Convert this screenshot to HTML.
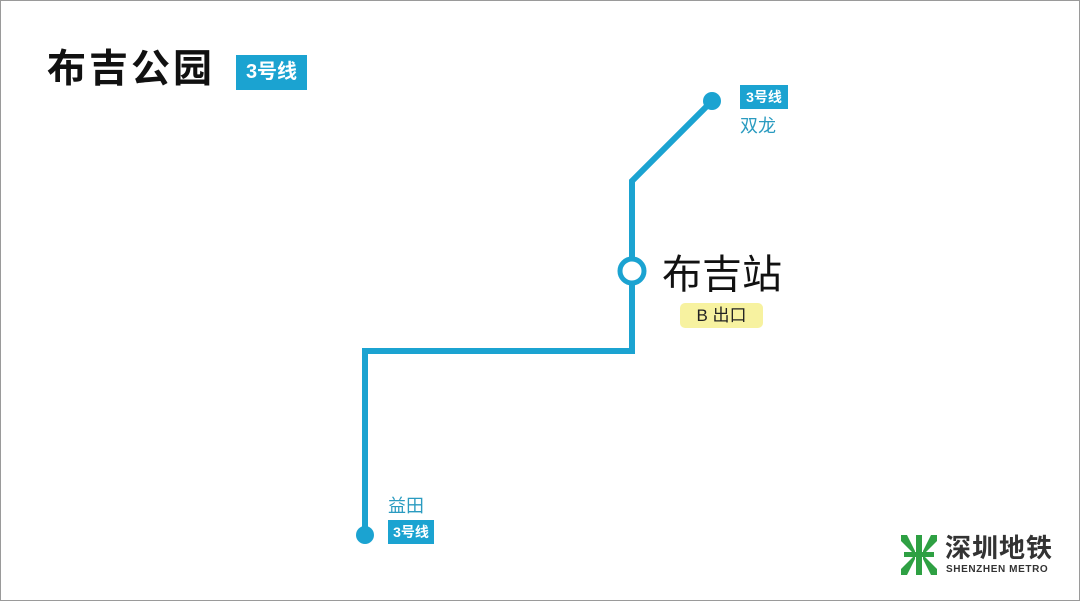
<!DOCTYPE html>
<html><head><meta charset="utf-8"><style>
html,body{margin:0;padding:0;background:#fff}
#c{position:relative;width:1078px;height:599px;border:1px solid #9a9a9a;overflow:hidden;font-family:"Liberation Sans","Noto Sans CJK SC",sans-serif}
.a{position:absolute;white-space:nowrap}
.badge{background:#1ba3d1;color:#fff;font-weight:bold;text-align:center}
</style></head><body><div id="c">
<svg class="a" style="left:0;top:0" width="1078" height="599">
<polyline points="711,100 631,180 631,350 364,350 364,534" fill="none" stroke="#1ba3d1" stroke-width="6" stroke-linejoin="miter"/>
<circle cx="711" cy="100" r="9" fill="#1ba3d1"/>
<circle cx="364" cy="534" r="9" fill="#1ba3d1"/>
<circle cx="631" cy="270" r="12" fill="#fff" stroke="#1ba3d1" stroke-width="5"/>
<g fill="#2ea043">
<rect x="915" y="534" width="6" height="40"/>
<path d="M900 534 h6 l8 16 v4 l-14 -14z"/>
<path d="M936 534 h-6 l-8 16 v4 l14 -14z"/>
<path d="M900 574 h6 l8 -16 v-4 l-14 14z"/>
<path d="M936 574 h-6 l-8 -16 v-4 l14 14z"/>
<rect x="903" y="551" width="30" height="5"/>
</g>
</svg>
<div class="a" style="left:46px;top:44px;font-size:39px;font-weight:bold;color:#111;line-height:50px;letter-spacing:3px">布吉公园</div>
<div class="a badge" style="left:235px;top:54px;width:71px;height:35px;line-height:35px;font-size:20px">3号线</div>
<div class="a badge" style="left:739px;top:84px;width:48px;height:24px;line-height:24px;font-size:14px">3号线</div>
<div class="a" style="left:739px;top:113px;font-size:18px;color:#2a9bc0;line-height:24px">双龙</div>
<div class="a" style="left:387px;top:493px;font-size:18px;color:#2a9bc0;line-height:24px">益田</div>
<div class="a badge" style="left:387px;top:519px;width:46px;height:24px;line-height:24px;font-size:14px">3号线</div>
<div class="a" style="left:661px;top:249px;font-size:40px;color:#111;line-height:50px">布吉站</div>
<div class="a" style="left:679px;top:302px;width:83px;height:25px;line-height:25px;background:#f7f2a0;border-radius:5px;text-align:center;font-size:17px;color:#222">B 出口</div>
<div class="a" style="left:944px;top:531px;font-size:26px;font-weight:bold;color:#333;line-height:32px;letter-spacing:1px">深圳地铁</div>
<div class="a" style="left:945px;top:563px;font-size:10px;font-weight:bold;color:#333;line-height:12px;letter-spacing:0.6px">SHENZHEN METRO</div>
</div></body></html>
